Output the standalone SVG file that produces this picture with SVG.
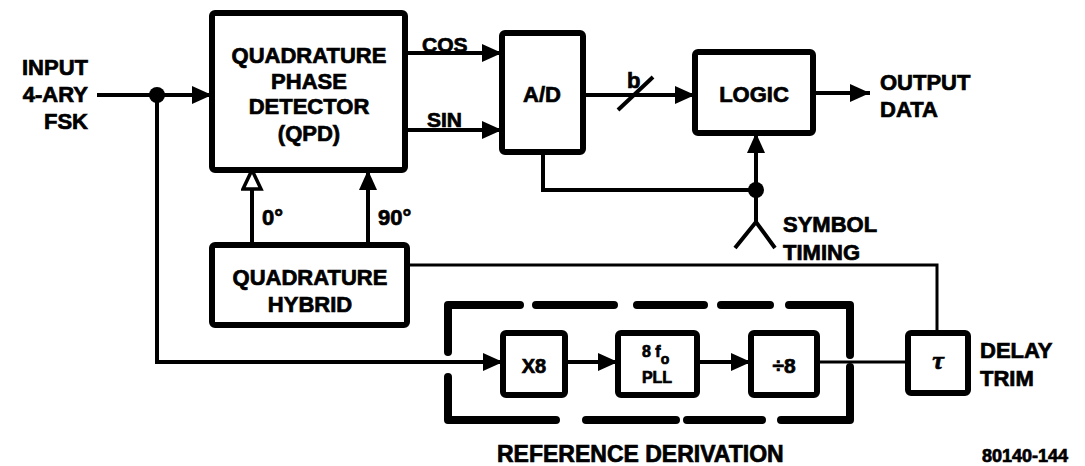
<svg xmlns="http://www.w3.org/2000/svg" width="1085" height="466" viewBox="0 0 1085 466">
<style>
.box{fill:none;stroke:#000;stroke-width:6}
.ln{fill:none;stroke:#000;stroke-width:4}
.thin{fill:none;stroke:#000;stroke-width:3}
.dash{fill:none;stroke:#000;stroke-width:8;stroke-linecap:round;stroke-linejoin:round}
text{font-family:"Liberation Sans",Arial,sans-serif;font-weight:bold;font-size:22px;fill:#000;stroke:#000;stroke-width:0.7}
.c{text-anchor:middle}
.r{text-anchor:end}
</style>
<defs>
<marker id="arr" markerUnits="userSpaceOnUse" markerWidth="20" markerHeight="20" refX="20" refY="9" orient="auto">
<path d="M0,0 L20,9 L0,18 z" fill="#000"/>
</marker>
<marker id="harr" markerUnits="userSpaceOnUse" markerWidth="24" markerHeight="24" refX="21" refY="11" orient="auto">
<path d="M2,2 L21,11 L2,20 z" fill="#fff" stroke="#000" stroke-width="3.5"/>
</marker>
</defs>
<rect width="1085" height="466" fill="#fff"/>

<g id="connectors">
<path class="ln" d="M97,95 H212" marker-end="url(#arr)"/>
<circle cx="157" cy="95" r="8"/>
<path class="ln" d="M157,95 V362 H503" marker-end="url(#arr)"/>
<path class="ln" d="M405,53 H502" marker-end="url(#arr)"/>
<path class="ln" d="M405,130 H502" marker-end="url(#arr)"/>
<path class="ln" d="M583,95 H695" marker-end="url(#arr)"/>
<path class="ln" d="M618,110 L653,77"/>
<path class="ln" d="M813,93 H870" marker-end="url(#arr)"/>
<path class="ln" d="M543,152 V190 H756"/>
<path class="ln" d="M756,222 V133" marker-end="url(#arr)"/>
<circle cx="756" cy="190" r="8"/>
<path class="ln" d="M735,248 L756,222 L775,248"/>
<path class="ln" d="M252,245 V170" marker-end="url(#harr)"/>
<path class="ln" d="M368,245 V170" marker-end="url(#arr)"/>
<path class="thin" d="M407,265 H937 V333"/>
<path class="ln" d="M565,362 H618" marker-end="url(#arr)"/>
<path class="ln" d="M697,362 H751" marker-end="url(#arr)"/>
<path class="thin" d="M817,362 H908"/>
</g>

<g id="reference-derivation">
<path class="dash" d="M448,352 V305 H520 M536,305 H614 M637,305 H704 M721,305 H770 M789,305 H850 V355"/>
<path class="dash" d="M448,377 V420 H556 M586,420 H676 M687,420 H762 M781,420 H850 V367"/>
<text x="497" y="462" style="font-size:23px">REFERENCE DERIVATION</text>
</g>

<g id="input-label">
<text class="r" x="88" y="75">INPUT</text>
<text class="r" x="88" y="102">4-ARY</text>
<text class="r" x="88" y="129">FSK</text>
</g>

<g id="qpd">
<rect class="box" x="212" y="13" width="193" height="157" rx="3"/>
<text class="c" x="309" y="63">QUADRATURE</text>
<text class="c" x="309" y="89">PHASE</text>
<text class="c" x="309" y="114">DETECTOR</text>
<text class="c" x="309" y="141">(QPD)</text>
</g>

<g id="labels">
<text x="422" y="52" style="font-size:21px">COS</text>
<text x="427" y="127" style="font-size:21px">SIN</text>
<text x="627" y="88">b</text>
<text x="262" y="225">0°</text>
<text x="378" y="225">90°</text>
<text x="880" y="90">OUTPUT</text>
<text x="880" y="117">DATA</text>
<text x="783" y="232">SYMBOL</text>
<text x="783" y="260">TIMING</text>
<text x="980" y="358">DELAY</text>
<text x="980" y="386">TRIM</text>
<text x="982" y="462" style="font-size:18px">80140-144</text>
</g>

<g id="ad">
<rect class="box" x="502" y="33" width="81" height="119" rx="3"/>
<text class="c" x="542" y="102">A/D</text>
</g>

<g id="logic">
<rect class="box" x="695" y="52" width="118" height="81" rx="3"/>
<text class="c" x="754" y="102">LOGIC</text>
</g>

<g id="hybrid">
<rect class="box" x="212" y="245" width="195" height="80" rx="3"/>
<text class="c" x="310" y="285">QUADRATURE</text>
<text class="c" x="310" y="312">HYBRID</text>
</g>

<g id="x8">
<rect class="box" x="503" y="333" width="62" height="62" rx="3"/>
<text class="c" x="534" y="373" style="font-size:20px">X8</text>
</g>

<g id="pll">
<rect class="box" x="618" y="333" width="79" height="62" rx="3"/>
<text x="642" y="357" style="font-size:16px">8 f<tspan dy="7" style="font-size:14px">o</tspan></text>
<text class="c" x="657" y="383" style="font-size:16px">PLL</text>
</g>

<g id="div8">
<rect class="box" x="751" y="333" width="66" height="62" rx="3"/>
<text class="c" x="784" y="373" style="font-size:21px">÷8</text>
</g>

<g id="delay">
<rect class="box" x="908" y="333" width="60" height="60" rx="3"/>
<text class="c" x="938" y="369" style="font-family:'Liberation Serif',serif;font-style:italic;font-size:26px">τ</text>
</g>
</svg>
